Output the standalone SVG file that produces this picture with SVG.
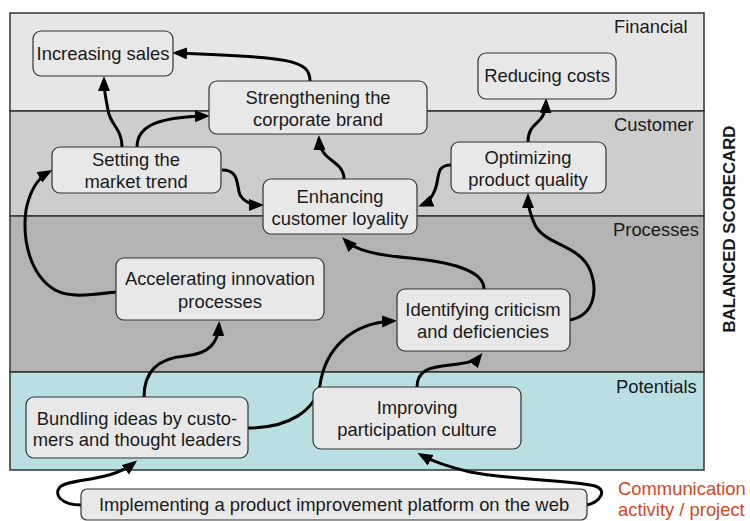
<svg xmlns="http://www.w3.org/2000/svg" width="750" height="521" viewBox="0 0 750 521">
<defs>
<style>
text{font-family:"Liberation Sans",Arial,sans-serif;font-size:18.4px;fill:#1a1a1a}
.node rect{fill:#e8e8e8;stroke:#333;stroke-width:1.2}
.node text{text-anchor:middle}
.band{stroke:#333;stroke-width:1.5}
.conn path{fill:none;stroke:#000;stroke-width:3;marker-end:url(#ah)}
</style>
<marker id="ah" markerUnits="userSpaceOnUse" markerWidth="16" markerHeight="14" viewBox="0 0 16 14" refX="11" refY="6" orient="auto">
<path d="M0,0 L15,6 L0,12 z" fill="#000"/>
</marker>
</defs>
<g id="bands">
<rect class="band" x="10" y="13" width="694" height="98" fill="#e6e6e6"/>
<rect class="band" x="10" y="111" width="694" height="105" fill="#cdcdcd"/>
<rect class="band" x="10" y="216" width="694" height="156" fill="#b3b3b3"/>
<rect class="band" x="10" y="372" width="694" height="98" fill="#b9dfe2"/>
<text x="614" y="33">Financial</text>
<text x="614" y="131">Customer</text>
<text x="613" y="236">Processes</text>
<text x="616" y="393">Potentials</text>
</g>
<text x="735" y="229" transform="rotate(-90 735 229)" text-anchor="middle" style="font-weight:bold;font-size:16.8px">BALANCED SCORECARD</text>
<g id="connectors" class="conn">
<path d="M310,81 C310,60 290,57 176,53"/>
<path d="M122,147 C122,128 110,125 108,110 C106,98 104,92 104,80"/>
<path d="M137,147 C137,125 160,117 206,116"/>
<path d="M222,170 C240,170 236,185 240,195 C245,203 252,205 260,205"/>
<path d="M344,179 C344,160 320,162 319,139"/>
<path d="M451,165 C435,165 440,178 435,190 C431,200 427,203 422,205"/>
<path d="M528,142 C528,120 545,127 546,102"/>
<path d="M570,320 C595,315 598,290 590,270 C580,245 545,245 535,225 C529,212 528,205 528,197"/>
<path d="M484,289 C484,270 450,262 410,258 C375,255 355,250 345,240"/>
<path d="M116,292 C90,295 70,298 55,290 C30,275 22,240 26,210 C30,190 38,178 49,172"/>
<path d="M144,397 C144,370 160,358 185,356 C210,354 218,342 219,325"/>
<path d="M248,428 C290,428 315,410 320,385 C325,350 350,323 393,321"/>
<path d="M417,387 C417,370 430,367 450,365 C468,363 476,361 480,356"/>
<path d="M81,505 C62,505 53,495 60,487 C70,478 110,482 134,463"/>
<path d="M587,505 C600,502 608,490 595,486 C570,480 510,480 470,472 C445,466 432,461 421,455"/>
</g>
<g id="increasing-sales" class="node"><rect x="33" y="31" width="140" height="45" rx="8"/><text x="103" y="60">Increasing sales</text></g>
<g id="reducing-costs" class="node"><rect x="478" y="53" width="138" height="46" rx="8"/><text x="547" y="82">Reducing costs</text></g>
<g id="strengthening-brand" class="node"><rect x="209" y="81" width="218" height="53" rx="8"/><text x="318" y="104">Strengthening the</text><text x="318" y="126">corporate brand</text></g>
<g id="setting-trend" class="node"><rect x="52" y="147" width="169" height="46" rx="8"/><text x="136" y="166">Setting the</text><text x="136" y="188">market trend</text></g>
<g id="optimizing-quality" class="node"><rect x="451" y="142" width="155" height="51" rx="8"/><text x="528" y="164">Optimizing</text><text x="528" y="186">product quality</text></g>
<g id="enhancing-loyalty" class="node"><rect x="263" y="179" width="154" height="55" rx="8"/><text x="340" y="203">Enhancing</text><text x="340" y="225">customer loyality</text></g>
<g id="accelerating-innovation" class="node"><rect x="116" y="258" width="208" height="62" rx="8"/><text x="220" y="285">Accelerating innovation</text><text x="220" y="308">processes</text></g>
<g id="identifying-criticism" class="node"><rect x="397" y="289" width="173" height="62" rx="8"/><text x="483" y="316">Identifying criticism</text><text x="483" y="338">and deficiencies</text></g>
<g id="bundling-ideas" class="node"><rect x="26" y="397" width="222" height="61" rx="8"/><text x="137" y="425">Bundling ideas by custo-</text><text x="137" y="446">mers and thought leaders</text></g>
<g id="improving-culture" class="node"><rect x="313" y="387" width="208" height="62" rx="8"/><text x="417" y="414">Improving</text><text x="417" y="436">participation culture</text></g>
<g id="implementing-platform" class="node"><rect x="81" y="489" width="506" height="31" rx="6"/><text x="334" y="511">Implementing a product improvement platform on the web</text></g>
<g id="legend"><text x="618" y="495" style="fill:#d8461b">Communication</text><text x="618" y="516" style="fill:#d8461b">activity / project</text></g>
</svg>
